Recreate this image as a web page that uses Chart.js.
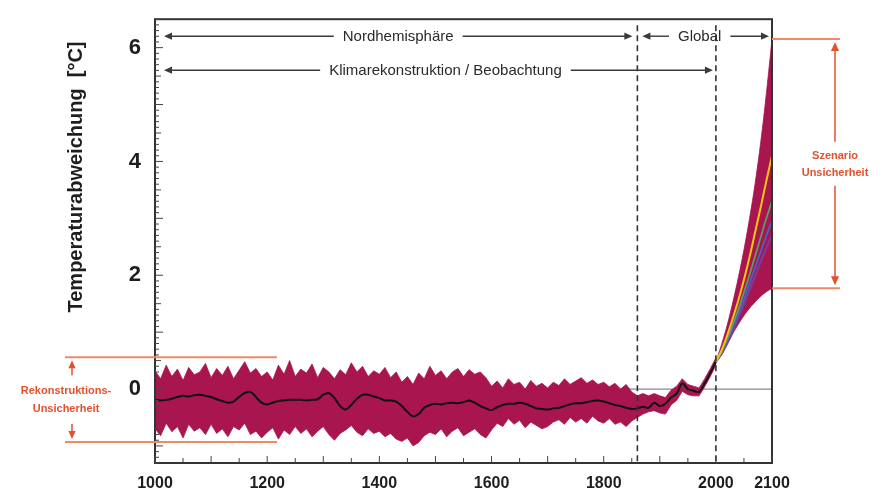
<!DOCTYPE html>
<html>
<head>
<meta charset="utf-8">
<script src="https://cdn.jsdelivr.net/npm/chart.js@4.4.0/dist/chart.umd.min.js"></script>
<style>
    html, body { margin: 0; padding: 0; background: #fff; }
</style>
</head>
<body>
<canvas id="chart" width="882" height="489"></canvas>
<script>
// Decades 1000..2000 (reconstruction / observation)
const recYears = [];
for (let yr = 1000; yr <= 2000; yr += 10) recYears.push(yr);

// Black line: reconstructed / observed anomaly (°C)
const recMean = [
    -0.19, -0.20, -0.19, -0.17, -0.14, -0.12, -0.13, -0.11, -0.10, -0.12,
    -0.14, -0.18, -0.21, -0.24, -0.22, -0.14, -0.07, -0.05, -0.14, -0.24,
    -0.27, -0.24, -0.21, -0.20, -0.19, -0.19, -0.19, -0.20, -0.19, -0.18,
    -0.10, -0.07, -0.16, -0.30, -0.36, -0.28, -0.17, -0.10, -0.10, -0.13,
    -0.16, -0.20, -0.20, -0.22, -0.30, -0.40, -0.48, -0.44, -0.33, -0.28,
    -0.26, -0.27, -0.25, -0.24, -0.25, -0.23, -0.20, -0.24, -0.30, -0.34,
    -0.37, -0.32, -0.28, -0.26, -0.26, -0.24, -0.26, -0.30, -0.34, -0.35,
    -0.36, -0.34, -0.33, -0.30, -0.27, -0.25, -0.25, -0.23, -0.21, -0.20,
    -0.22, -0.25, -0.28, -0.30, -0.33, -0.35, -0.34, -0.31, -0.33, -0.24,
    -0.30, -0.26, -0.15, -0.08, 0.10, 0.00, -0.03, -0.05, 0.10, 0.28,
    0.48
];

// Uncertainty band edges
const recUpper = [
    0.32, 0.18, 0.42, 0.22, 0.35, 0.15, 0.38, 0.25, 0.30, 0.45,
    0.20, 0.36, 0.24, 0.40, 0.18, 0.33, 0.48, 0.28, 0.36, 0.22,
    0.30, 0.16, 0.42, 0.26, 0.50, 0.22, 0.35, 0.28, 0.44, 0.20,
    0.38, 0.30, 0.18, 0.34, 0.25, 0.46, 0.30, 0.40, 0.22, 0.32,
    0.26, 0.38, 0.20, 0.30, 0.12, 0.22, 0.08, 0.28, 0.18, 0.40,
    0.24, 0.32, 0.18, 0.30, 0.36, 0.22, 0.34, 0.26, 0.30, 0.20,
    0.05, 0.14, 0.02, 0.18, 0.08, 0.12, 0.00, 0.15, 0.05, 0.10,
    0.02, 0.12, 0.06, 0.18, 0.08, 0.14, 0.20, 0.10, 0.16, 0.08,
    0.12, 0.04, 0.10, 0.00, 0.08, -0.05, -0.12, -0.08, -0.12, -0.08,
    -0.12, -0.15, -0.02, 0.05, 0.18, 0.08, 0.05, 0.02, 0.18, 0.36,
    0.55
];
const recLower = [
    -0.70, -0.82, -0.60, -0.75, -0.66, -0.86, -0.62, -0.74, -0.68, -0.80,
    -0.62, -0.78, -0.70, -0.84, -0.66, -0.72, -0.60, -0.80, -0.74, -0.86,
    -0.76, -0.68, -0.88, -0.72, -0.80, -0.66, -0.78, -0.70, -0.84, -0.74,
    -0.66, -0.80, -0.90, -0.78, -0.72, -0.64, -0.76, -0.82, -0.70, -0.78,
    -0.74, -0.84, -0.78, -0.88, -0.92, -0.86, -1.00, -0.94, -0.82, -0.76,
    -0.80, -0.70, -0.84, -0.74, -0.68, -0.82, -0.76, -0.70, -0.80, -0.86,
    -0.72, -0.60, -0.66, -0.52, -0.62, -0.55, -0.68, -0.58, -0.64, -0.70,
    -0.66, -0.58, -0.54, -0.62, -0.50, -0.58, -0.52, -0.60, -0.48, -0.56,
    -0.60, -0.52, -0.62, -0.58, -0.66, -0.56, -0.50, -0.44, -0.40, -0.38,
    -0.42, -0.44, -0.28, -0.20, -0.04, -0.10, -0.12, -0.12, 0.04, 0.22,
    0.42
];

// Scenarios 2000..2100
const scenYears = [2000, 2010, 2020, 2030, 2040, 2050, 2060, 2070, 2080, 2090, 2100];
const scenUpper  = [0.48, 0.78, 1.12, 1.52, 1.96, 2.45, 3.00, 3.62, 4.35, 5.20, 6.15];
const scenLower  = [0.48, 0.60, 0.78, 0.97, 1.14, 1.29, 1.42, 1.53, 1.63, 1.71, 1.77];
const scenYellow = [0.48, 0.68, 0.94, 1.24, 1.56, 1.92, 2.32, 2.76, 3.20, 3.66, 4.10];
const scenGreen  = [0.48, 0.65, 0.88, 1.13, 1.40, 1.70, 2.01, 2.34, 2.67, 3.00, 3.30];
const scenBlue   = [0.48, 0.63, 0.84, 1.07, 1.32, 1.58, 1.86, 2.14, 2.42, 2.70, 2.95];
const scenPurple = [0.48, 0.62, 0.81, 1.02, 1.25, 1.49, 1.74, 1.99, 2.24, 2.48, 2.70];

// Axes
const xTickLabels = [1000, 1200, 1400, 1600, 1800, 2000, 2100];
const yTickLabels = [0, 2, 4, 6];
const periodMarks = [1860, 2000];
const recRange = [-0.93, 0.56];
const scenRange = [1.77, 6.15];

const BAND = '#a8154f';
const ORANGE = '#e2522c';
const ORANGE_LIGHT = '#ee8a68';
const FONT = '"Liberation Sans", Arial, Helvetica, sans-serif';

const pts = (xs, ys) => xs.map((x, i) => ({ x, y: ys[i] }));

function line(ctx, x1, y1, x2, y2) {
    ctx.beginPath(); ctx.moveTo(x1, y1); ctx.lineTo(x2, y2); ctx.stroke();
}
function head(ctx, x, y, dir, size) {
    // dir: 'l','r','u','d' ; (x,y) = tip
    const s = size || 7, w = s * 0.45;
    ctx.beginPath();
    if (dir === 'l') { ctx.moveTo(x, y); ctx.lineTo(x + s, y - w); ctx.lineTo(x + s, y + w); }
    if (dir === 'r') { ctx.moveTo(x, y); ctx.lineTo(x - s, y - w); ctx.lineTo(x - s, y + w); }
    if (dir === 'u') { ctx.moveTo(x, y); ctx.lineTo(x - w, y + s); ctx.lineTo(x + w, y + s); }
    if (dir === 'd') { ctx.moveTo(x, y); ctx.lineTo(x - w, y - s); ctx.lineTo(x + w, y - s); }
    ctx.closePath(); ctx.fill();
}
// horizontal double arrow with label in the middle
function span(ctx, x1, x2, y, text, cx) {
    ctx.font = '15px ' + FONT;
    const tw = ctx.measureText(text).width;
    const gap = 9;
    ctx.strokeStyle = '#3a3a3a'; ctx.fillStyle = '#3a3a3a'; ctx.lineWidth = 1.4;
    line(ctx, x1 + 4, y, cx - tw / 2 - gap, y);
    line(ctx, cx + tw / 2 + gap, y, x2 - 4, y);
    head(ctx, x1, y, 'l', 8);
    head(ctx, x2, y, 'r', 8);
    ctx.fillStyle = '#2a2a2a';
    ctx.textAlign = 'center'; ctx.textBaseline = 'middle';
    ctx.fillText(text, cx, y + 1);
}

const overlay = {
    id: 'overlay',
    beforeDatasetsDraw(chart) {
        const { ctx, chartArea: a, scales: { y } } = chart;
        ctx.save();
        ctx.strokeStyle = '#8a8a8a'; ctx.lineWidth = 1.2;
        const y0 = y.getPixelForValue(0);
        line(ctx, a.left, y0, a.right, y0);
        ctx.restore();
    },
    afterDatasetsDraw(chart) {
        const { ctx, chartArea: a, scales: { x, y } } = chart;
        ctx.save();

        // dashed period lines
        ctx.strokeStyle = '#333'; ctx.lineWidth = 1.6; ctx.setLineDash([6, 4]);
        periodMarks.forEach(v => {
            const px = x.getPixelForValue(v);
            line(ctx, px, a.top + 6, px, a.bottom);
        });
        ctx.setLineDash([]);

        // frame
        ctx.strokeStyle = '#333'; ctx.lineWidth = 2;
        ctx.strokeRect(a.left, a.top, a.right - a.left, a.bottom - a.top);

        // inside ticks
        ctx.lineWidth = 1; ctx.strokeStyle = '#444';
        for (let v = 1000; v <= 2100; v += 50) {
            const px = x.getPixelForValue(v);
            line(ctx, px, a.bottom, px, a.bottom - (v % 100 === 0 ? 7 : 5));
        }
        for (let k = Math.ceil(y.min * 10); k <= Math.floor(y.max * 10); k++) {
            const py = y.getPixelForValue(k / 10);
            line(ctx, a.left, py, a.left + (k % 10 === 0 ? 8 : (k % 5 === 0 ? 6 : 4)), py);
        }

        // top period arrows
        const xN = x.getPixelForValue(periodMarks[0]);
        const xG = x.getPixelForValue(periodMarks[1]);
        span(ctx, a.left + 9, xN - 5, a.top + 17, 'Nordhemisphäre', (a.left + xN) / 2 + 2);
        span(ctx, xN + 5, a.right - 3, a.top + 17, 'Global', (xN + a.right) / 2 - 5);
        span(ctx, a.left + 9, xG - 3, a.top + 51, 'Klimarekonstruktion / Beobachtung', (a.left + xG) / 2 + 10);

        // reconstruction uncertainty (left)
        const rt = y.getPixelForValue(recRange[1]);
        const rb = y.getPixelForValue(recRange[0]);
        const rm = (rt + rb) / 2;
        ctx.strokeStyle = ORANGE_LIGHT; ctx.lineWidth = 2;
        line(ctx, a.left - 90, rt, a.left + 122, rt);
        line(ctx, a.left - 90, rb, a.left + 122, rb);
        const ax = a.left - 83;
        ctx.strokeStyle = ORANGE; ctx.fillStyle = ORANGE; ctx.lineWidth = 1.5;
        line(ctx, ax, rt + 6, ax, rt + 18);
        head(ctx, ax, rt + 3, 'u', 8);
        line(ctx, ax, rb - 18, ax, rb - 6);
        head(ctx, ax, rb - 3, 'd', 8);
        ctx.font = 'bold 11px ' + FONT;
        ctx.textAlign = 'center'; ctx.textBaseline = 'middle';
        ctx.fillText('Rekonstruktions-', a.left - 89, rm - 9);
        ctx.fillText('Unsicherheit', a.left - 89, rm + 9);

        // scenario uncertainty (right)
        const st = y.getPixelForValue(scenRange[1]);
        const sb = y.getPixelForValue(scenRange[0]);
        const sm = (st + sb) / 2;
        ctx.strokeStyle = ORANGE_LIGHT; ctx.lineWidth = 2;
        line(ctx, a.right, st, a.right + 68, st);
        line(ctx, a.right, sb, a.right + 68, sb);
        const bx = a.right + 63;
        ctx.strokeStyle = ORANGE; ctx.fillStyle = ORANGE; ctx.lineWidth = 1.5;
        line(ctx, bx, st + 8, bx, sm - 22);
        head(ctx, bx, st + 3, 'u', 9);
        line(ctx, bx, sm + 22, bx, sb - 8);
        head(ctx, bx, sb - 3, 'd', 9);
        ctx.font = 'bold 11px ' + FONT;
        ctx.fillText('Szenario', bx, sm - 8);
        ctx.fillText('Unsicherheit', bx, sm + 9);

        // y axis title
        ctx.fillStyle = '#1e1e1e';
        ctx.font = 'bold 20px ' + FONT;
        ctx.translate(76, 177);
        ctx.rotate(-Math.PI / 2);
        ctx.fillText('Temperaturabweichung  [°C]', 0, 0);

        ctx.restore();
    }
};

const ctx = document.getElementById('chart').getContext('2d');
new Chart(ctx, {
    type: 'line',
    data: {
        datasets: [
            { label: 'Rekonstruktion', data: pts(recYears, recMean), borderColor: '#111', borderWidth: 2,
              pointRadius: 0, tension: 0.35, order: 0, fill: false },
            { label: 'A', data: pts(scenYears, scenYellow), borderColor: '#f3c515', borderWidth: 2,
              pointRadius: 0, tension: 0.4, order: 1, fill: false },
            { label: 'B', data: pts(scenYears, scenGreen), borderColor: '#5e9a6a', borderWidth: 1.8,
              pointRadius: 0, tension: 0.4, order: 1, fill: false },
            { label: 'C', data: pts(scenYears, scenBlue), borderColor: '#4a63c0', borderWidth: 1.8,
              pointRadius: 0, tension: 0.4, order: 1, fill: false },
            { label: 'D', data: pts(scenYears, scenPurple), borderColor: '#7a3c94', borderWidth: 2.2,
              pointRadius: 0, tension: 0.4, order: 1, fill: false },
            { label: 'recUpper', data: pts(recYears, recUpper), borderColor: BAND, borderWidth: 0.8,
              backgroundColor: BAND, pointRadius: 0, tension: 0, order: 5, fill: '+1' },
            { label: 'recLower', data: pts(recYears, recLower), borderColor: BAND, borderWidth: 0.8,
              pointRadius: 0, tension: 0, order: 5, fill: false },
            { label: 'scenUpper', data: pts(scenYears, scenUpper), borderColor: BAND, borderWidth: 0.8,
              backgroundColor: BAND, pointRadius: 0, tension: 0.4, order: 5, fill: '+1' },
            { label: 'scenLower', data: pts(scenYears, scenLower), borderColor: BAND, borderWidth: 0.8,
              pointRadius: 0, tension: 0.4, order: 5, fill: false }
        ]
    },
    options: {
        responsive: false,
        animation: false,
        devicePixelRatio: 1,
        layout: { padding: { top: 18, right: 110, left: 0, bottom: 0 } },
        plugins: { legend: { display: false }, tooltip: { enabled: false } },
        scales: {
            x: {
                type: 'linear', min: 1000, max: 2100,
                afterBuildTicks: s => { s.ticks = xTickLabels.map(v => ({ value: v })); },
                afterFit: s => { s.height = 26; },
                grid: { display: false },
                border: { display: false },
                ticks: { autoSkip: false, maxRotation: 0, padding: 3, color: '#1e1e1e',
                         callback: v => String(v),
                         font: { family: FONT, size: 16, weight: 'bold' } }
            },
            y: {
                type: 'linear', min: -1.3, max: 6.5,
                afterBuildTicks: s => { s.ticks = yTickLabels.map(v => ({ value: v })); },
                afterFit: s => { s.width = 155; },
                grid: { display: false },
                border: { display: false },
                ticks: { padding: 6, color: '#1e1e1e',
                         font: { family: FONT, size: 22, weight: 'bold' } }
            }
        }
    },
    plugins: [overlay]
});
</script>
</body>
</html>
